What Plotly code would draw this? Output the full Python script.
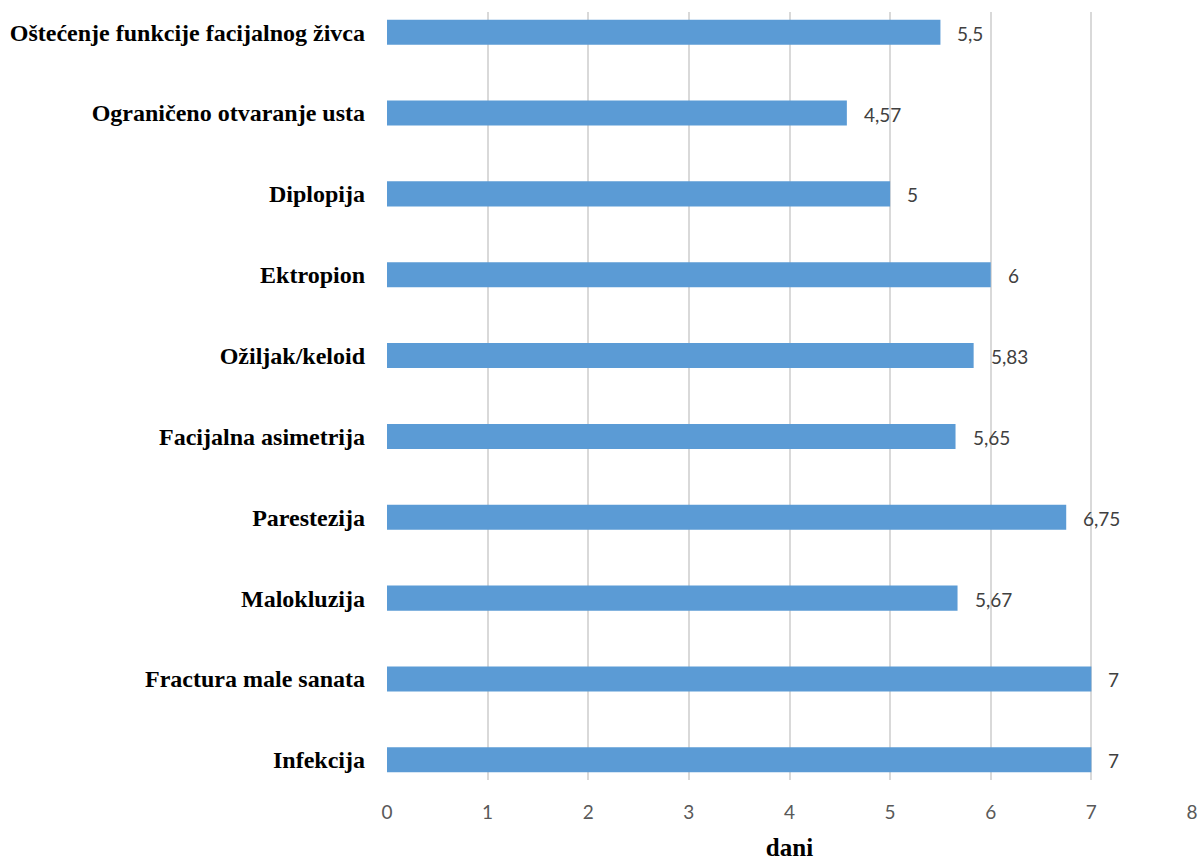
import plotly.graph_objects as go

# Complications (top to bottom as shown) and mean duration in days
complications = [
    "Oštećenje funkcije facijalnog živca",
    "Ograničeno otvaranje usta",
    "Diplopija",
    "Ektropion",
    "Ožiljak/keloid",
    "Facijalna asimetrija",
    "Parestezija",
    "Malokluzija",
    "Fractura male sanata",
    "Infekcija",
]
days = [5.5, 4.57, 5, 6, 5.83, 5.65, 6.75, 5.67, 7, 7]
x_ticks = [0, 1, 2, 3, 4, 5, 6, 7, 8]

# plot bottom-up so the first item ends on top
cats = complications[::-1]
vals = days[::-1]
labels = [f"{v:g}".replace(".", ",") for v in vals]

SANS = "Lato, Carlito, sans-serif"
SERIF = "Liberation Serif, Times New Roman, serif"

fig = go.Figure(
    go.Bar(
        x=vals,
        y=cats,
        orientation="h",
        width=0.31,
        marker=dict(color="#5b9bd5", line=dict(width=0)),
        hoverinfo="skip",
    )
)

# value labels placed just right of each bar end
for c, v, t in zip(cats, vals, labels):
    fig.add_annotation(
        x=v, y=c, xref="x", yref="y",
        text=t, showarrow=False,
        xanchor="left", yanchor="middle",
        xshift=15, yshift=-1,
        font=dict(family=SANS, size=19, color="#404040"),
    )

fig.update_layout(
    width=1201,
    height=861,
    margin=dict(l=387, r=9, t=12, b=81, autoexpand=False),
    plot_bgcolor="white",
    paper_bgcolor="white",
    showlegend=False,
    xaxis=dict(
        range=[0, 8],
        tickvals=x_ticks,
        showgrid=True,
        gridcolor="#d9d9d9",
        gridwidth=1.5,
        zeroline=False,
        showline=False,
        automargin=False,
        tickfont=dict(family=SANS, size=19, color="#595959"),
        ticks="",
        ticklabelstandoff=19,
        title=dict(
            text="<b>dani</b>",
            font=dict(family=SERIF, size=25, color="black"),
            standoff=18,
        ),
    ),
    yaxis=dict(
        type="category",
        categoryorder="array",
        categoryarray=cats,
        range=[-0.25, 9.25],
        showgrid=False,
        zeroline=False,
        showline=False,
        automargin=False,
        ticks="",
        ticklabelstandoff=21,
        tickfont=dict(family=SERIF, size=24, color="black"),
        tickprefix="<b>",
        ticksuffix="</b>",
    ),
)

fig.write_html("out.html")
